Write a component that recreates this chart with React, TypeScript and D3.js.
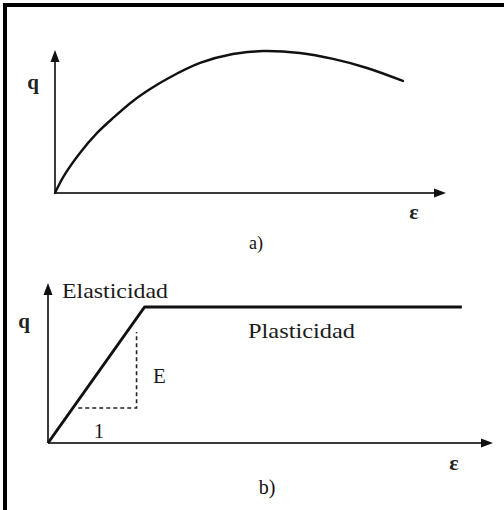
import React from "react";
import * as d3 from "d3";

// a) nonlinear stress–strain curve (strain, q)
const strainA = [0, 2.1, 6.4, 10.8, 14.9, 20, 24.4, 28.7, 37.2, 45.6, 53.3, 62.8, 71.3, 80, 89.2];
const qA = [0, 11.1, 27.8, 41.7, 52.1, 63.9, 72.2, 79.2, 90.3, 96.5, 98.6, 97.2, 93.1, 86.8, 77.8];

// b) elastic–perfectly plastic model
const strainB = [0, 21.7, 93];
const qB = [0, 85, 85];
// slope triangle (1 : E)
const triStrain = [6.8, 19.9];
const triQ = [21.9, 69.4];

const labelsB = { elastic: "Elasticidad", plastic: "Plasticidad", modulus: "E", unit: "1" };

const W = 504;
const H = 510;
const SERIF = "Liberation Serif, Times New Roman, DejaVu Serif, serif";

function Arrow({ x, y, dir }: { x: number; y: number; dir: "up" | "right" }) {
  const L = 12;
  const h = 4.5;
  const d =
    dir === "up"
      ? `M${x},${y} L${x - h},${y + L} L${x + h},${y + L} Z`
      : `M${x},${y} L${x - L},${y - h} L${x - L},${y + h} Z`;
  return <path d={d} fill="#111" />;
}

export default function App() {
  // panel a scales
  const xA = d3.scaleLinear().domain([0, 100]).range([55, 445]);
  const yA = d3.scaleLinear().domain([0, 100]).range([193, 49]);
  const lineA = d3
    .line<number>()
    .x((_, i) => xA(strainA[i]))
    .y((d) => yA(d))
    .curve(d3.curveCatmullRom.alpha(0.5));

  // panel b scales
  const xB = d3.scaleLinear().domain([0, 100]).range([48, 493]);
  const yB = d3.scaleLinear().domain([0, 100]).range([443, 283]);
  const lineB = d3
    .line<number>()
    .x((_, i) => xB(strainB[i]))
    .y((d) => yB(d));

  const axis = "#3a3a3a";

  return (
    <svg
      width={W}
      height={H}
      viewBox={`0 0 ${W} ${H}`}
      style={{ position: "absolute", left: 0, top: 0, display: "block", background: "#fff" }}
    >
      <rect x={0} y={0} width={W} height={H} fill="#fff" />
      {/* frame */}
      <path d={`M5,${H} V5 H${W}`} fill="none" stroke="#000" strokeWidth={4} />

      {/* ---- panel a ---- */}
      <line x1={xA(0)} y1={yA(0)} x2={xA(0)} y2={60} stroke={axis} strokeWidth={2} />
      <Arrow x={xA(0)} y={50} dir="up" />
      <line x1={xA(0)} y1={yA(0)} x2={436} y2={yA(0)} stroke={axis} strokeWidth={2} />
      <Arrow x={446} y={yA(0)} dir="right" />
      <path d={lineA(qA) ?? ""} fill="none" stroke="#111" strokeWidth={2.4} strokeLinecap="round" />
      <text x={33} y={89} fontFamily={SERIF} fontSize={21} fontWeight={700} fill="#222" textAnchor="middle">
        q
      </text>
      <text x={414} y={219} fontFamily={SERIF} fontSize={22} fontWeight={700} fill="#222" textAnchor="middle">
        ε
      </text>
      <text x={256} y={249} fontFamily={SERIF} fontSize={18} fill="#111" textAnchor="middle">
        a)
      </text>

      {/* ---- panel b ---- */}
      <line x1={xB(0)} y1={yB(0)} x2={xB(0)} y2={293} stroke={axis} strokeWidth={2} />
      <Arrow x={xB(0)} y={283} dir="up" />
      <line x1={xB(0)} y1={yB(0)} x2={483} y2={yB(0)} stroke={axis} strokeWidth={2} />
      <Arrow x={493} y={yB(0)} dir="right" />
      <path
        d={lineB(qB) ?? ""}
        fill="none"
        stroke="#111"
        strokeWidth={3}
        strokeLinejoin="round"
      />
      {/* slope triangle */}
      <path
        d={`M${xB(triStrain[0])},${yB(triQ[0])} H${xB(triStrain[1])} V${yB(triQ[1])}`}
        fill="none"
        stroke="#222"
        strokeWidth={1.6}
        strokeDasharray="4,3"
      />
      <text x={62} y={298} fontFamily={SERIF} fontSize={21} fill="#1a1a1a" textLength={106} lengthAdjust="spacingAndGlyphs">
        {labelsB.elastic}
      </text>
      <text x={248} y={338} fontFamily={SERIF} fontSize={21} fill="#1a1a1a" textLength={107} lengthAdjust="spacingAndGlyphs">
        {labelsB.plastic}
      </text>
      <text x={153} y={383} fontFamily={SERIF} fontSize={21} fill="#1a1a1a">
        {labelsB.modulus}
      </text>
      <text x={99} y={438} fontFamily={SERIF} fontSize={21} fill="#1a1a1a" textAnchor="middle">
        {labelsB.unit}
      </text>
      <text x={24} y={328} fontFamily={SERIF} fontSize={21} fontWeight={700} fill="#222" textAnchor="middle">
        q
      </text>
      <text x={454} y={470} fontFamily={SERIF} fontSize={22} fontWeight={700} fill="#222" textAnchor="middle">
        ε
      </text>
      <text x={267} y={494} fontFamily={SERIF} fontSize={20} fill="#111" textAnchor="middle">
        b)
      </text>
    </svg>
  );
}
